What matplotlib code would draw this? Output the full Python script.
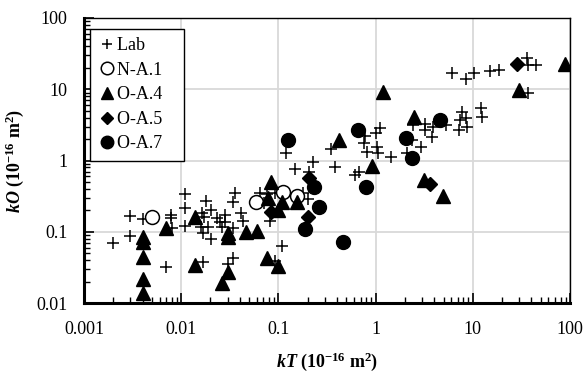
import matplotlib
matplotlib.use("Agg")
import matplotlib.pyplot as plt
from matplotlib.ticker import FixedLocator, LogLocator, NullFormatter, FixedFormatter

plt.rcParams['font.family'] = ['Liberation Serif', 'DejaVu Serif']
plt.rcParams['mathtext.fontset'] = 'custom'
plt.rcParams['mathtext.rm'] = 'Liberation Serif'
plt.rcParams['mathtext.it'] = 'Liberation Serif:italic'
plt.rcParams['mathtext.bf'] = 'Liberation Serif:bold'
plt.rcParams['mathtext.bfit'] = 'Liberation Serif:italic:bold'

# ---- data (kT, kO) in 1e-16 m^2 ----
lab_kT = [0.0020, 0.0030, 0.0030, 0.0040, 0.0070, 0.0079, 0.0079, 0.0081,
          0.011, 0.011, 0.011, 0.018, 0.0164, 0.0172, 0.0203, 0.0160, 0.0189,
          0.0168, 0.0203, 0.0234, 0.0251, 0.0282, 0.0282, 0.0263, 0.0341,
          0.0357, 0.0341, 0.0412, 0.0432, 0.0647, 0.0764, 0.0923, 0.0711,
          0.0820, 0.179, 0.202, 0.0168, 0.0303, 0.0341, 0.0923, 0.109,
          0.120, 0.148, 0.227, 0.206, 0.348, 0.382, 0.614, 0.675, 0.778,
          0.760, 0.816, 1.01, 1.11, 1.03, 1.06, 1.45, 2.10, 2.37, 2.93, 2.42,
          3.22, 3.22, 3.90, 3.80, 5.30, 6.11, 8.51, 10.3, 15.0, 18.6, 36.1,
          37.0, 44.7, 37.0, 7.74, 7.38, 8.51, 7.21, 8.71, 12.1, 12.4]
lab_kO = [0.070, 0.166, 0.087, 0.151, 0.032, 0.172, 0.156, 0.113,
          0.339, 0.215, 0.120, 0.270, 0.183, 0.161, 0.202, 0.117, 0.117,
          0.096, 0.079, 0.156, 0.137, 0.172, 0.137, 0.117, 0.113,
          0.350, 0.262, 0.183, 0.142, 0.350, 0.339, 0.350, 0.253,
          0.142, 0.350, 0.288, 0.038, 0.035, 0.043, 0.039, 0.063,
          1.27, 0.76, 0.95, 0.69, 1.45, 0.81, 0.626, 0.690, 2.21,
          1.76, 1.32, 2.43, 2.86, 1.55, 1.27, 1.12, 1.27, 1.94, 1.55, 3.15,
          3.25, 2.68, 2.95, 2.14, 3.15, 16.9, 13.9, 16.9, 18.0, 18.6, 27.5,
          21.9, 21.9, 8.86, 4.80, 3.70, 3.95, 2.68, 2.95, 5.45, 4.08]

na1_kT = [0.0050, 0.0589, 0.111, 0.155]
na1_kO = [0.161, 0.262, 0.361, 0.318]

oa4_kT = [0.0040, 0.0040, 0.0040, 0.0040, 0.0040, 0.0070, 0.0139, 0.0303,
          0.0303, 0.0464, 0.0602, 0.0839, 0.0782, 0.109, 0.155, 0.0991,
          0.0139, 0.0303, 0.0263, 0.0764, 0.0991, 0.420, 1.19, 0.918, 2.48,
          3.15, 4.93, 29.9, 88.9]
oa4_kO = [0.084, 0.072, 0.044, 0.022, 0.014, 0.113, 0.161, 0.096,
          0.084, 0.099, 0.102, 0.499, 0.298, 0.262, 0.262, 0.202,
          0.034, 0.027, 0.019, 0.043, 0.033, 1.94, 9.15, 0.837, 4.08,
          0.533, 0.318, 9.76, 22.6]

oa5_kT = [0.0839, 0.206, 0.202, 3.63, 28.5]
oa5_kO = [0.189, 0.568, 0.161, 0.468, 22.6]

oa7_kT = [0.126, 0.232, 0.262, 0.188, 0.462, 0.659, 0.796, 2.05, 2.37, 4.60]
oa7_kO = [1.94, 0.425, 0.222, 0.109, 0.072, 2.68, 0.425, 2.07, 1.08, 3.70]

series_labels = ['Lab', 'N-A.1', 'O-A.4', 'O-A.5', 'O-A.7']

x_ticks = [0.001, 0.01, 0.1, 1, 10, 100]
x_ticklabels = ['0.001', '0.01', '0.1', '1', '10', '100']
y_ticks = [0.01, 0.1, 1, 10, 100]
y_ticklabels = ['0.01', '0.1', '1', '10', '100']

fig = plt.figure(figsize=(5.84, 3.74), dpi=100)
ax = fig.add_axes([84/584, 1-303/374, (570-84)/584, (303-18)/374])

ax.set_xscale('log')
ax.set_yscale('log')
ax.set_xlim(0.001, 100)
ax.set_ylim(0.01, 100)

ax.plot(lab_kT, lab_kO, ls='none', marker='+', ms=8, mew=1.1, color='black',
        label=series_labels[0] + '   ', zorder=3)
ax.plot(na1_kT, na1_kO, ls='none', marker='o', ms=10, mew=1.1, mfc='white', mec='black',
        label=series_labels[1] + '   ', zorder=3)
ax.plot(oa4_kT, oa4_kO, ls='none', marker='^', ms=10, color='black',
        label=series_labels[2] + '   ', zorder=4)
ax.plot(oa5_kT, oa5_kO, ls='none', marker='D', ms=7, color='black',
        label=series_labels[3] + '   ', zorder=4)
ax.plot(oa7_kT, oa7_kO, ls='none', marker='o', ms=10, color='black',
        label=series_labels[4] + '   ', zorder=4)

ax.xaxis.set_major_locator(FixedLocator(x_ticks))
ax.xaxis.set_major_formatter(FixedFormatter(x_ticklabels))
ax.yaxis.set_major_locator(FixedLocator(y_ticks))
ax.yaxis.set_major_formatter(FixedFormatter(y_ticklabels))
ax.xaxis.set_minor_locator(LogLocator(base=10, subs=range(2, 10), numticks=20))
ax.yaxis.set_minor_locator(LogLocator(base=10, subs=range(2, 10), numticks=20))
ax.xaxis.set_minor_formatter(NullFormatter())
ax.yaxis.set_minor_formatter(NullFormatter())

ax.tick_params(which='major', direction='in', length=7, width=1.2, labelsize=13, pad=13,
               bottom=True, left=True, top=False, right=False)
ax.tick_params(which='minor', direction='in', length=4, width=1.0,
               bottom=True, left=True, top=False, right=False)
ax.tick_params(axis='y', which='major', pad=12)

ax.grid(True, which='major', color='#d9d9d9', lw=1.3, zorder=0)
ax.set_axisbelow(True)

ax.spines['bottom'].set_linewidth(2.2)
ax.spines['left'].set_linewidth(2.2)
ax.spines['top'].set_linewidth(1.0)
ax.spines['right'].set_linewidth(1.0)

ax.set_xlabel(r'$\mathbfit{kT}\ \mathbf{(10^{-16}\ m^{2})}$', fontsize=13, labelpad=9)
ax.set_ylabel(r'$\mathbfit{kO}\ \mathbf{(10^{-16}\ m^{2})}$', fontsize=13, labelpad=7)

leg = ax.legend(loc='upper left', bbox_to_anchor=(6/486, 1-11/285), borderaxespad=0,
                fontsize=13, handlelength=1.0, handletextpad=0.05, labelspacing=0.42,
                borderpad=0.45, frameon=True, fancybox=False, edgecolor='black',
                framealpha=1, numpoints=1)
leg.get_frame().set_linewidth(1.0)
for h in leg.legend_handles:
    h.set_markersize(h.get_markersize() * 0.9)

fig.savefig('out.png', dpi=100)
